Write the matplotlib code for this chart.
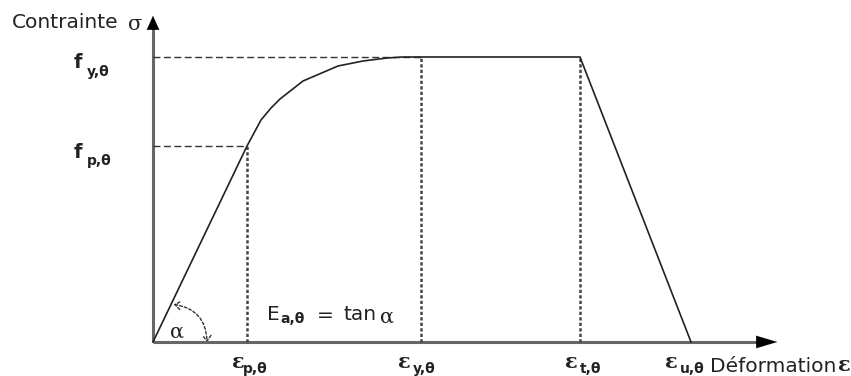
import matplotlib
matplotlib.use("Agg")
import matplotlib.pyplot as plt
from matplotlib.patches import FancyArrowPatch

plt.rcParams['font.family'] = ['DejaVu Sans']

# stress-strain curve (arbitrary units)
strain = [0, 94, 108, 118, 127, 150, 185, 210, 234, 250, 268, 427, 538]
stress = [0, 196, 222, 234, 243, 261, 276, 281, 284, 285, 285, 285, 0]

eps_p, eps_y, eps_t, eps_u = 94, 268, 427, 538
f_p, f_y = 196, 285

txt = '#222222'
main = dict(fontsize=14.5, color=txt, ha='left', va='center')
sub = dict(fontsize=10, fontweight='bold', color=txt, ha='left', va='center')
greek = dict(fontsize=15, family='DejaVu Serif', color=txt, ha='left', va='center')

fig = plt.figure(figsize=(8.51, 3.76), dpi=100)
ax = fig.add_axes([0, 0, 1, 1])
ax.set_xlim(-153, 698)
ax.set_ylim(-34, 342)
ax.axis('off')

# axes with arrows
ax.plot([0, 0], [0, 318], color='#666666', lw=2.2, solid_capstyle='butt')
ax.plot([0, 612], [0, 0], color='#666666', lw=2.2, solid_capstyle='butt')
ax.annotate('', xy=(0, 329), xytext=(0, 310),
            arrowprops=dict(arrowstyle='-|>,head_length=1.0,head_width=0.45',
                            color='black', lw=0.1))
ax.annotate('', xy=(627, 0), xytext=(605, 0),
            arrowprops=dict(arrowstyle='-|>,head_length=1.5,head_width=0.45',
                            color='black', lw=0.1))

# guide lines
ax.plot([0, eps_y], [f_y, f_y], ls=(0, (5, 2.5)), color='#333333', lw=1.0)
ax.plot([0, eps_p], [f_p, f_p], ls=(0, (5, 2.5)), color='#333333', lw=1.0)
for e in [eps_p, eps_y, eps_t]:
    s = stress[strain.index(e)]
    ax.plot([e, e], [0, s], ls=(0, (1.3, 0.9)), color='#444444', lw=1.8)

# curve
ax.plot(strain, stress, color='#222222', lw=1.2)

# angle arc
arc = FancyArrowPatch((18, 38), (54, -3), connectionstyle='arc3,rad=-0.45',
                      arrowstyle='<->,head_length=4,head_width=3',
                      ls=(0, (2, 1.5)), color='#333333', lw=1.0)
ax.add_patch(arc)
ax.text(17, 10, 'α', **greek)

# axis titles
ax.text(-141, 320, 'Contrainte', **main)
ax.text(-25, 318, 'σ', **greek)
ax.text(557, -24, 'Déformation', **main)
ax.text(685, -23, 'ε', fontweight='bold', **greek)

# stress labels
for lab, y in [('y,θ', f_y), ('p,θ', f_p)]:
    ax.text(-79, y - 6, 'f', fontsize=14, fontweight='bold', color=txt,
            ha='left', va='center')
    ax.text(-66, y - 15, lab, **sub)

# strain labels
offs = [(-15, -2), (-23, 2), (-15, 2), (-26, 2)]
for e, lab, (dx, gap) in zip([eps_p, eps_y, eps_t, eps_u], ['p,θ', 'y,θ', 't,θ', 'u,θ'], offs):
    ax.text(e + dx, -20, 'ε', fontweight='bold', **greek)
    ax.text(e + dx + 13 + gap, -27, lab, **sub)

# modulus
ax.text(114, 27, 'E', **main)
ax.text(127, 23, 'a,θ', **sub)
ax.text(164, 27, '=', **main)
ax.text(190, 27, 'tan', **main)
ax.text(227, 25, 'α', **greek)

fig.savefig('out.png', dpi=100)
